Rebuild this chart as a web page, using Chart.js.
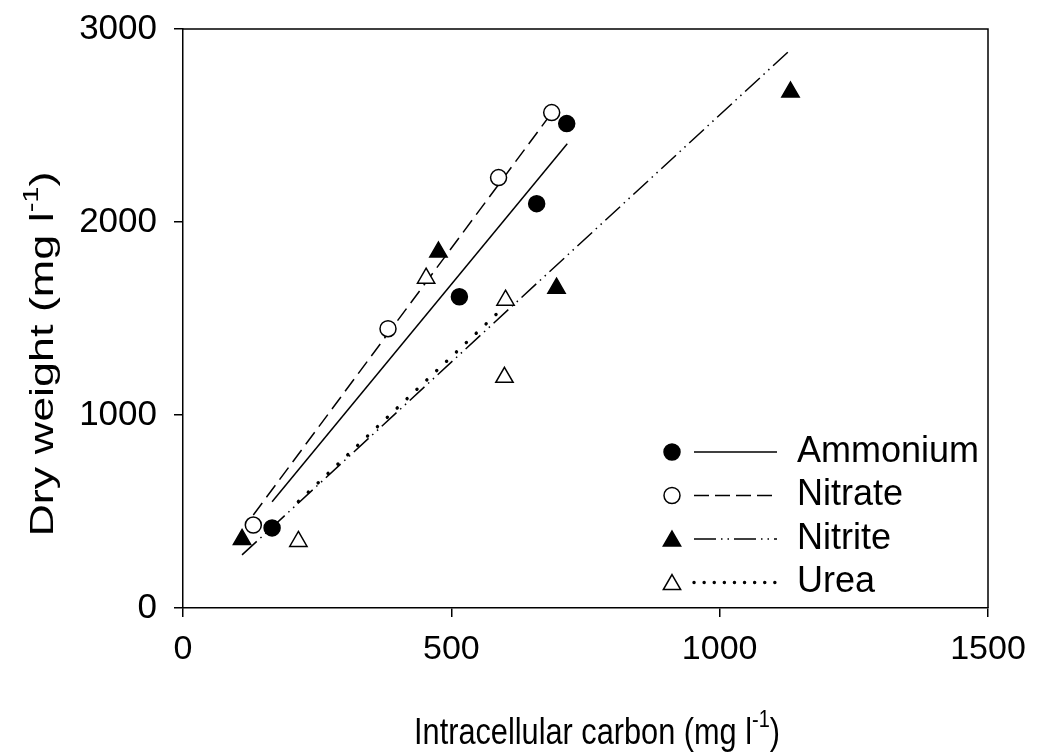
<!DOCTYPE html>
<html>
<head>
<meta charset="utf-8">
<script src="https://cdn.jsdelivr.net/npm/chart.js@4.4.1/dist/chart.umd.min.js"></script>
<style>
  html, body { margin: 0; background: #fff; }
</style>
</head>
<body>
<canvas id="c" width="1037" height="756"></canvas>
<script>
// measured points: intracellular carbon (mg/l) vs dry weight (mg/l)
const ammoniumC  = [166, 515, 659, 715];
const ammoniumDW = [415, 1613, 2095, 2510];
const nitrateC   = [131, 382, 588, 687];
const nitrateDW  = [430, 1447, 2230, 2567];
const nitriteC   = [110, 476, 696, 1132];
const nitriteDW  = [355, 1844, 1657, 2673];
const ureaC      = [215, 453, 601, 599];
const ureaDW     = [345, 1709, 1595, 1195];

// regression lines (end points)
const ammoniumFitC = [166, 716],  ammoniumFitDW = [551, 2405];
const nitrateFitC  = [131, 687],  nitrateFitDW  = [482, 2565];
const nitriteFitC  = [110, 1129], nitriteFitDW  = [275, 2885];
const ureaFitC     = [215, 600],  ureaFitDW     = [552, 1565];

const seriesNames = ['Ammonium', 'Nitrate', 'Nitrite', 'Urea'];
const xTicks = [0, 500, 1000, 1500];
const yTicks = [0, 1000, 2000, 3000];

const FONT = '"Liberation Sans", Arial, sans-serif';
const pts = (xs, ys) => xs.map((x, i) => ({ x, y: ys[i] }));

const markers = [
  { pointStyle: 'circle',   radius: 8,  fill: '#000' },
  { pointStyle: 'circle',   radius: 8,  fill: '#fff' },
  { pointStyle: 'triangle', radius: 10, fill: '#000' },
  { pointStyle: 'triangle', radius: 10, fill: '#fff' }
];
const dashes = [[], [15, 7], [20, 5, 1.5, 5, 1.5, 5], [0.1, 13.5]];
const legendDashes = [[], [15, 6], [22, 5, 1.5, 5, 1.5, 5], [0.1, 10]];
const widths = [1.5, 1.5, 1.5, 3.4];

const pointSets = [pts(ammoniumC, ammoniumDW), pts(nitrateC, nitrateDW), pts(nitriteC, nitriteDW), pts(ureaC, ureaDW)];
const fitSets = [pts(ammoniumFitC, ammoniumFitDW), pts(nitrateFitC, nitrateFitDW), pts(nitriteFitC, nitriteFitDW), pts(ureaFitC, ureaFitDW)];

const datasets = [];
fitSets.forEach((d, i) => datasets.push({
  type: 'line', label: seriesNames[i] + ' fit', data: d, order: 2,
  borderColor: '#000', borderWidth: widths[i], borderDash: dashes[i],
  borderCapStyle: i === 3 ? 'round' : 'butt', pointRadius: 0, fill: false, tension: 0
}));
pointSets.forEach((d, i) => datasets.push({
  type: 'scatter', label: seriesNames[i], data: d, order: 1,
  pointStyle: markers[i].pointStyle, pointRadius: markers[i].radius,
  pointBackgroundColor: markers[i].fill, pointBorderColor: '#000', pointBorderWidth: 1.5
}));

// draws a label in which some parts are superscript
function drawParts(ctx, parts, size) {
  let w = 0;
  parts.forEach(p => { ctx.font = (p[1] ? size * 0.65 : size) + 'px ' + FONT; w += ctx.measureText(p[0]).width; });
  let x = -w / 2;
  parts.forEach(p => {
    ctx.font = (p[1] ? size * 0.65 : size) + 'px ' + FONT;
    ctx.fillText(p[0], x, p[1] ? -size * 0.45 : 0);
    x += ctx.measureText(p[0]).width;
  });
}

const decor = {
  id: 'decor',
  afterDraw(chart) {
    const { ctx, chartArea: a } = chart;
    ctx.save();
    // top and right frame
    ctx.strokeStyle = '#000'; ctx.lineWidth = 1.5;
    ctx.beginPath();
    ctx.moveTo(a.left, a.top); ctx.lineTo(a.right, a.top); ctx.lineTo(a.right, a.bottom);
    ctx.stroke();

    // axis titles
    ctx.fillStyle = '#000'; ctx.textBaseline = 'alphabetic'; ctx.textAlign = 'left';
    ctx.save();
    ctx.translate(597, 744);
    ctx.scale(0.83, 1);
    drawParts(ctx, [['Intracellular carbon (mg l', false], ['-1', true], [')', false]], 37);
    ctx.restore();

    ctx.save();
    ctx.translate(53, 354);
    ctx.rotate(-Math.PI / 2);
    ctx.scale(1.32, 1);
    drawParts(ctx, [['Dry weight (mg l', false], ['-1', true], [')', false]], 34);
    ctx.restore();

    // legend inside the plot, lower right
    const lx = a.right - 316, ly = a.bottom - 156;
    seriesNames.forEach((name, i) => {
      const y = ly + i * 43.5;
      ctx.fillStyle = markers[i].fill; ctx.strokeStyle = '#000'; ctx.lineWidth = 1.5;
      Chart.helpers.drawPoint(ctx, { pointStyle: markers[i].pointStyle, radius: markers[i].radius, rotation: 0, borderWidth: 1.5 }, lx, y + (i > 1 ? 2 : 0));
      ctx.setLineDash(legendDashes[i]); ctx.lineWidth = i === 3 ? 3.4 : 1.5;
      ctx.lineCap = i === 3 ? 'round' : 'butt';
      ctx.beginPath(); ctx.moveTo(lx + 22, y); ctx.lineTo(lx + 105, y); ctx.stroke();
      ctx.setLineDash([]); ctx.lineCap = 'butt';
      ctx.fillStyle = '#000'; ctx.font = '36px ' + FONT; ctx.textBaseline = 'middle';
      ctx.fillText(name, lx + 125, y);
    });
    ctx.restore();
  }
};

const axisCommon = {
  grid: { drawOnChartArea: false, color: '#000', tickLength: 9, lineWidth: 1.5 },
  border: { color: '#000', width: 1.5 }
};

new Chart(document.getElementById('c').getContext('2d'), {
  data: { datasets },
  options: {
    responsive: false, animation: false,
    layout: { padding: { top: 29, right: 49, left: 0, bottom: 0 } },
    plugins: { legend: { display: false }, tooltip: { enabled: false } },
    scales: {
      x: {
        type: 'linear', min: xTicks[0], max: xTicks[xTicks.length - 1], ...axisCommon,
        afterBuildTicks: s => { s.ticks = xTicks.map(v => ({ value: v })); },
        ticks: { color: '#000', padding: 12, maxRotation: 0, callback: v => String(v),
          font: { family: FONT, size: 34 } },
        afterFit: s => { s.height = 148; s.paddingLeft = 0; s.paddingRight = 0; }
      },
      y: {
        type: 'linear', min: yTicks[0], max: yTicks[yTicks.length - 1], ...axisCommon,
        afterBuildTicks: s => { s.ticks = yTicks.map(v => ({ value: v })); },
        ticks: { color: '#000', padding: 17, callback: v => String(v), font: { family: FONT, size: 35 } },
        afterFit: s => { s.width = 183; s.paddingTop = 0; s.paddingBottom = 0; }
      }
    }
  },
  plugins: [decor]
});
</script>
</body>
</html>
